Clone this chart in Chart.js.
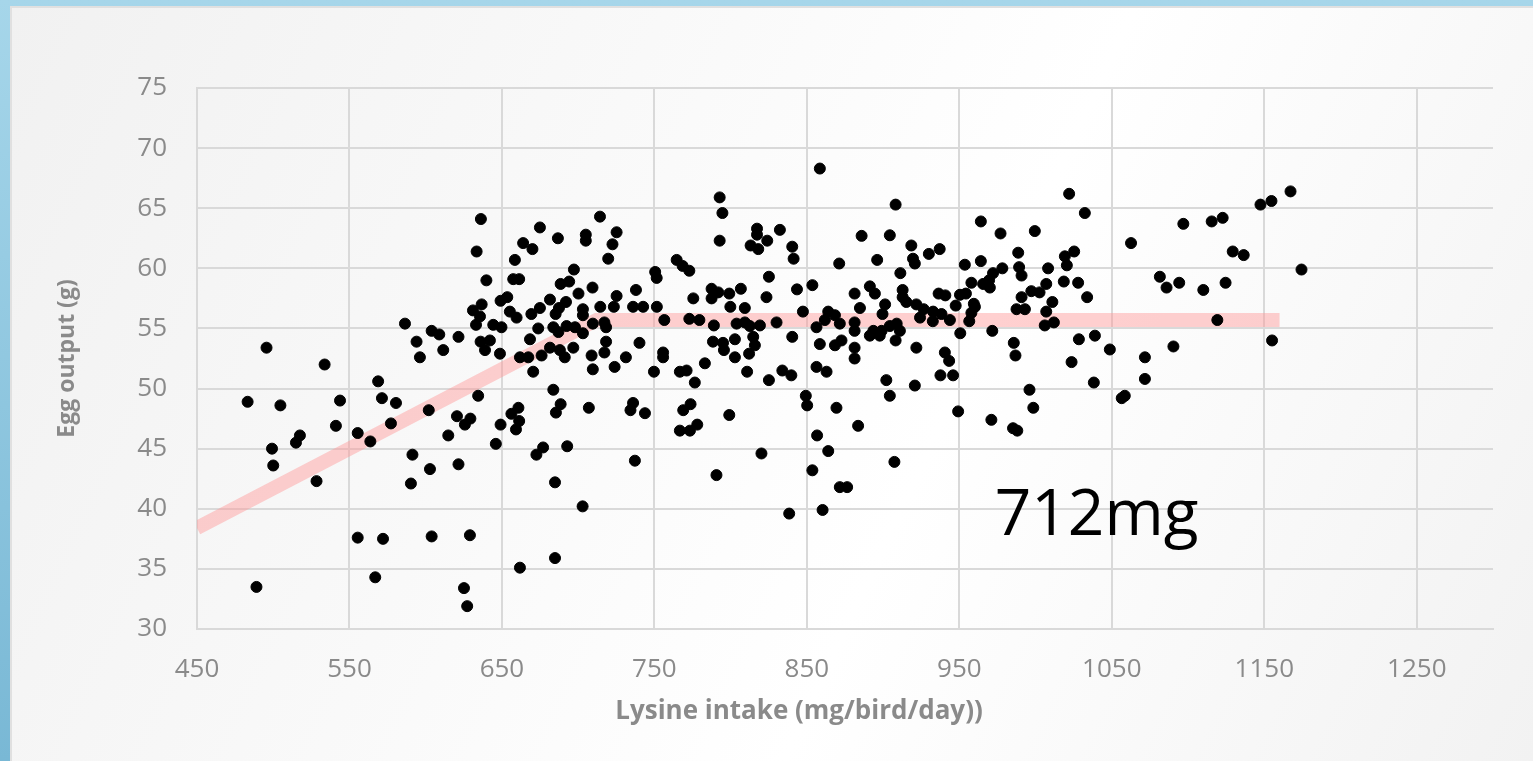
<!DOCTYPE html>
<html>
<head>
<meta charset="utf-8">
<title>Egg output vs lysine intake</title>
<script src="https://cdn.jsdelivr.net/npm/chart.js@4/dist/chart.umd.min.js"></script>
<style>
  html, body { margin: 0; padding: 0; }
  body {
    width: 1533px; height: 761px; overflow: hidden; position: relative;
    background: linear-gradient(to bottom, #a6d6ea, #79b8d5);
  }
  #panel {
    position: absolute; left: 10px; top: 6px; right: 0; bottom: 0;
    background: linear-gradient(115deg, #f1f1f1 0%, #f9f9f9 35%, #ffffff 60%, #f2f2f2 100%);
    border-left: 2px solid #e0e0e0; border-top: 2px solid #e0e0e0;
  }
  #chart { position: absolute; left: 0; top: 0; }
</style>
</head>
<body>
<div id="panel"></div>
<canvas id="chart" width="1533" height="761"></canvas>
<script>
// lysine intake (mg/bird/day) and egg output (g), one pair per bird
const lysine = [
  495.6, 533.7, 586.4, 603.9, 608.9, 621.5, 594.0, 611.5, 596.2, 631.0,
  633.0, 636.0, 568.8, 571.3, 580.5, 483.2, 504.7, 543.8, 602.0, 541.1,
  555.4, 577.2, 563.7, 517.5, 514.9, 499.2, 500.0, 528.4, 620.5, 629.3,
  625.7, 614.8, 591.3, 602.8, 590.3, 621.5, 555.4, 572.0, 603.9, 629.0,
  489.0, 566.9, 625.1, 627.2, 634.4,
  636.2, 633.4, 674.9, 686.7, 714.3, 725.2, 705.0, 705.0, 722.5, 663.9,
  670.0, 719.7, 658.5, 639.8, 657.4, 661.3, 697.2, 688.5, 694.1, 709.4,
  700.2, 725.2, 737.9, 750.5, 751.5, 653.5, 649.1, 636.7, 681.5, 692.0,
  674.9, 669.3, 687.4, 685.2, 703.1, 703.1, 714.5, 723.4, 736.0, 742.6,
  751.6, 655.2, 659.6, 635.6, 644.3, 649.7, 673.8, 683.7, 687.0, 692.4,
  697.9, 703.1, 709.6, 717.2, 718.3, 756.5, 668.4, 638.9, 642.1, 648.7,
  681.5, 688.0, 696.8, 691.2, 718.3, 717.2, 740.2, 755.7, 755.7, 661.8,
  667.3, 676.0, 708.8, 731.3, 709.6, 723.9, 749.7, 670.5, 683.7,
  688.5, 685.4, 707.0, 736.0, 734.3, 743.8, 660.8, 656.2, 661.3, 649.1,
  659.2, 646.0, 677.0, 672.6, 692.8, 737.2, 684.8, 702.9, 684.8, 661.8,
  858.5, 792.8, 794.6, 792.8, 817.3, 817.3, 832.3, 824.0, 813.1, 818.1,
  840.4, 841.3, 871.2, 764.6, 768.5, 772.9, 825.1, 787.5, 791.9, 799.1,
  806.7, 787.5, 775.5, 823.5, 843.5, 853.6, 881.3, 799.8, 809.3, 847.4,
  772.9, 779.5, 789.0, 803.9, 809.3, 812.6, 819.2, 830.1, 856.3, 864.0,
  868.4, 861.8, 871.6, 881.3, 881.3, 788.4, 795.0, 802.8, 814.8, 815.9,
  795.6, 840.4, 858.5, 868.4, 872.7, 881.3, 881.3, 783.1, 802.8, 812.1,
  766.7, 771.1, 776.5, 810.8, 825.1, 833.9, 839.8, 856.3, 862.9,
  849.3, 850.2, 869.4, 883.6, 768.9, 773.7, 799.1, 766.7, 773.3, 778.1,
  856.7, 864.0, 820.2, 853.6, 790.7, 871.6, 876.4, 860.3, 838.4,
  908.2, 885.9, 904.4, 964.1, 977.0, 999.5, 918.5, 930.0, 937.1, 896.1,
  919.6, 920.8, 911.3, 953.6, 964.1, 988.6, 989.2, 990.8, 978.2, 972.1,
  1008.2, 957.9, 965.6, 970.0, 969.5, 1007.0, 891.3, 894.6, 912.8, 912.8,
  936.4, 940.8, 950.4, 954.3, 997.2, 1002.6, 990.8, 901.3, 884.8, 915.2,
  921.8, 926.6, 947.6, 959.5, 960.2, 987.5, 993.0, 899.6, 932.8, 938.3,
  957.9, 1007.0, 908.9, 924.2, 932.6, 943.8, 956.5, 1006.0, 893.6, 899.0,
  904.4, 911.0, 897.8, 891.3, 908.2, 950.6, 971.6, 921.8, 940.5, 943.3,
  985.7, 986.8, 937.6, 945.9, 902.1, 920.8, 996.0,
  904.4, 949.2, 998.5, 971.0, 985.2, 988.0, 907.4,
  1022.0, 1032.3, 1167.2, 1154.7, 1147.5, 1096.9, 1115.5, 1122.7, 1062.6, 1129.3,
  1136.5, 1019.2, 1025.3, 1020.5, 1018.5, 1027.9, 1033.8, 1011.0, 1012.0, 1081.5,
  1085.9, 1094.2, 1110.0, 1124.6, 1174.4, 1119.2, 1155.1, 1028.4, 1038.9, 1048.7,
  1023.6, 1071.7, 1090.4, 1038.2, 1071.7, 1056.5, 1058.5
];
const eggOutput = [
  53.4, 52.0, 55.4, 54.8, 54.5, 54.3, 53.9, 53.2, 52.6, 56.5,
  55.3, 53.9, 50.6, 49.2, 48.8, 48.9, 48.6, 49.0, 48.2, 46.9,
  46.3, 47.1, 45.6, 46.1, 45.5, 45.0, 43.6, 42.3, 47.7, 47.5,
  47.0, 46.1, 44.5, 43.3, 42.1, 43.7, 37.6, 37.5, 37.7, 37.8,
  33.5, 34.3, 33.4, 31.9, 49.4,
  64.1, 61.4, 63.4, 62.5, 64.3, 63.0, 62.8, 62.3, 62.0, 62.1,
  61.6, 60.8, 60.7, 59.0, 59.1, 59.1, 59.9, 58.7, 58.9, 58.4,
  57.9, 57.7, 58.2, 59.7, 59.2, 57.6, 57.3, 57.0, 57.4, 57.2,
  56.7, 56.2, 56.7, 56.2, 56.6, 56.1, 56.8, 56.8, 56.8, 56.8,
  56.8, 56.4, 55.9, 56.0, 55.3, 55.1, 55.0, 55.1, 54.7, 55.2,
  55.1, 54.6, 55.4, 55.5, 55.1, 55.7, 54.1, 53.2, 54.0, 52.9,
  53.4, 53.2, 53.4, 52.6, 53.9, 53.0, 53.8, 53.0, 52.6, 52.6,
  52.6, 52.75, 52.75, 52.6, 51.6, 51.8, 51.4, 51.4, 49.9,
  48.7, 48.0, 48.4, 48.8, 48.2, 47.95, 48.4, 47.9, 47.3, 47.0,
  46.6, 45.4, 45.1, 44.5, 45.2, 44.0, 42.2, 40.2, 35.9, 35.1,
  68.3, 65.9, 64.6, 62.3, 63.3, 62.8, 63.2, 62.3, 61.9, 61.6,
  61.8, 60.8, 60.4, 60.7, 60.2, 59.8, 59.3, 58.3, 58.0, 57.9,
  58.3, 57.5, 57.5, 57.6, 58.25, 58.6, 57.9, 56.8, 56.7, 56.4,
  55.8, 55.7, 55.25, 55.4, 55.5, 55.2, 55.25, 55.5, 55.1, 56.4,
  56.1, 55.7, 55.4, 55.5, 54.8, 53.9, 53.8, 54.1, 54.3, 53.6,
  53.2, 54.3, 53.7, 53.6, 54.0, 53.4, 52.5, 52.1, 52.6, 52.9,
  51.4, 51.5, 50.5, 51.4, 50.7, 51.5, 51.1, 51.8, 51.4,
  49.4, 48.6, 48.4, 46.9, 48.2, 48.7, 47.8, 46.5, 46.5, 47.0,
  46.1, 44.8, 44.6, 43.2, 42.8, 41.8, 41.8, 39.9, 39.6,
  65.3, 62.7, 62.75, 63.9, 62.9, 63.1, 61.9, 61.2, 61.6, 60.7,
  60.8, 60.4, 59.6, 60.3, 60.6, 61.3, 60.1, 59.4, 60.0, 59.6,
  60.0, 58.8, 58.7, 58.4, 59.0, 58.7, 58.5, 57.9, 58.2, 57.6,
  57.9, 57.75, 57.8, 57.9, 58.1, 58.0, 57.6, 57.0, 56.7, 57.2,
  57.0, 56.6, 56.9, 57.05, 56.8, 56.6, 56.6, 56.2, 56.4, 56.2,
  56.3, 56.4, 55.4, 55.9, 55.6, 55.7, 55.6, 55.25, 54.8, 54.8,
  55.2, 54.8, 54.4, 54.4, 54.0, 54.6, 54.8, 53.4, 53.0, 52.3,
  53.8, 52.75, 51.1, 51.1, 50.7, 50.25, 49.9,
  49.4, 48.1, 48.4, 47.4, 46.7, 46.5, 43.9,
  66.2, 64.6, 66.4, 65.6, 65.3, 63.7, 63.9, 64.2, 62.1, 61.4,
  61.1, 61.0, 61.4, 60.25, 58.9, 58.8, 57.6, 57.2, 55.5, 59.3,
  58.4, 58.8, 58.2, 58.8, 59.9, 55.7, 54.0, 54.1, 54.4, 53.25,
  52.2, 52.6, 53.5, 50.5, 50.8, 49.2, 49.4
];

// broken-line fit: rising segment up to the 712 mg breakpoint, then plateau
const fitLysine = [450, 712, 1160];
const fitEgg = [38.4, 55.7, 55.7];

const xTicks = [450, 550, 650, 750, 850, 950, 1050, 1150, 1250];
const yMin = 30, yMax = 75, yStep = 5;

const breakpointLabel = '712mg';
const labelAt = { x: 1040, y: 39.3 };

const points = lysine.map((x, i) => ({ x: x, y: eggOutput[i] }));
const fitLine = fitLysine.map((x, i) => ({ x: x, y: fitEgg[i] }));

const gray = '#8a8a8a';
const gridColor = '#d9d9d9';

const extraText = {
  id: 'extraText',
  afterDatasetsDraw(chart) {
    const { ctx, scales: { x, y } } = chart;
    ctx.save();
    ctx.fillStyle = '#000';
    ctx.font = '64px "Open Sans"';
    ctx.textAlign = 'center';
    ctx.textBaseline = 'middle';
    ctx.fillText(breakpointLabel, x.getPixelForValue(labelAt.x), y.getPixelForValue(labelAt.y));
    // x axis title, Excel places it a bit left of centre
    ctx.fillStyle = gray;
    ctx.font = 'bold 26px "Open Sans"';
    ctx.fillText('Lysine intake (mg/bird/day))', 799, 712);
    ctx.restore();
  }
};

new Chart(document.getElementById('chart'), {
  type: 'scatter',
  data: {
    datasets: [
      {
        data: points,
        backgroundColor: '#000',
        borderColor: '#000',
        pointRadius: 5.5,
        pointHoverRadius: 5.5,
        order: 1
      },
      {
        type: 'line',
        data: fitLine,
        borderColor: 'rgba(255, 150, 150, 0.45)',
        borderWidth: 14,
        borderCapStyle: 'butt',
        pointRadius: 0,
        fill: false,
        tension: 0,
        order: 2
      }
    ]
  },
  options: {
    responsive: false,
    animation: false,
    events: [],
    layout: { padding: { left: 0, top: 88, right: 40, bottom: 0 } },
    plugins: { legend: { display: false }, tooltip: { enabled: false } },
    scales: {
      x: {
        type: 'linear',
        min: 450,
        max: 1300,
        afterBuildTicks: (scale) => { scale.ticks = xTicks.map(v => ({ value: v })); },
        afterFit: (scale) => { scale.height = 132; },
        grid: { color: gridColor, lineWidth: 2, drawTicks: false },
        border: { color: gridColor, width: 2 },
        ticks: {
          color: gray, font: { family: 'Open Sans', size: 26 }, padding: 25, maxRotation: 0,
          callback: (v) => String(v)
        }
      },
      y: {
        min: yMin,
        max: yMax,
        afterFit: (scale) => { scale.width = 197; },
        grid: { color: gridColor, lineWidth: 2, drawTicks: false },
        border: { color: gridColor, width: 2 },
        ticks: { stepSize: yStep, color: gray, font: { family: 'Open Sans', size: 26 }, padding: 30 },
        title: {
          display: true,
          text: 'Egg output (g)',
          color: gray,
          font: { family: 'Open Sans', size: 23, weight: 'bold' },
          padding: { top: 54, bottom: 0 }
        }
      }
    }
  },
  plugins: [extraText]
});
</script>
</body>
</html>
